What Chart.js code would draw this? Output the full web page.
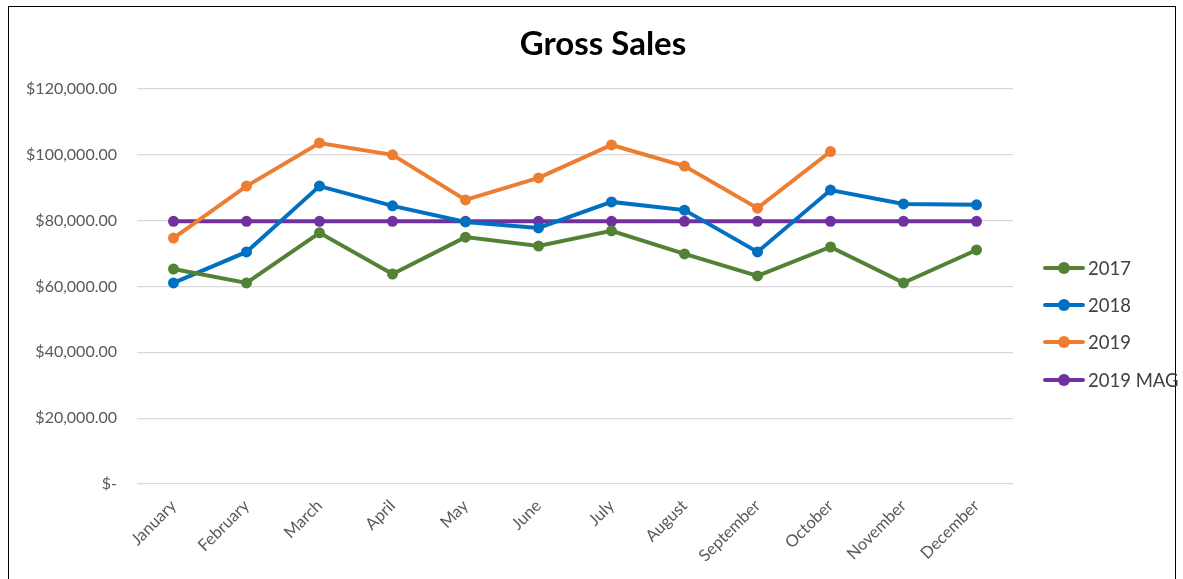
<!DOCTYPE html>
<html><head><meta charset="utf-8">
<script src="https://cdn.jsdelivr.net/npm/chart.js@4"></script>
<style>
html,body{margin:0;padding:0;background:#fff;}
#wrap{position:relative;width:1183px;height:579px;}
#frame{position:absolute;left:8px;top:6px;width:1168px;height:580px;border:1.5px solid #000;box-sizing:border-box;pointer-events:none;}
#legend{position:absolute;left:1043px;top:249px;font-family:Lato,'Open Sans',sans-serif;font-size:18.5px;color:#404040;}
.li{display:flex;align-items:center;height:37.3px;}
.sw{position:relative;width:42px;height:12px;margin-right:3px;}
.sw .ln{position:absolute;left:0;right:0;top:4px;height:4px;border-radius:2px;}
.sw .dt{position:absolute;left:15px;top:0;width:12px;height:12px;border-radius:50%;}
</style></head>
<body><div id="wrap"><canvas id="c" width="1183" height="579"></canvas><div id="frame"></div><div id="legend"></div></div>
<script>
const months = ['January','February','March','April','May','June','July','August','September','October','November','December'];
const sales2017 = [65300, 61100, 76300, 63800, 75000, 72300, 76900, 69900, 63200, 72000, 61100, 71100];
const sales2018 = [61100, 70500, 90500, 84500, 79600, 77800, 85700, 83200, 70500, 89300, 85100, 84800];
const sales2019 = [74700, 90500, 103600, 100000, 86300, 93000, 103000, 96600, 83800, 101000, null, null];
const mag2019 = [79800, 79800, 79800, 79800, 79800, 79800, 79800, 79800, 79800, 79800, 79800, 79800];
const seriesNames = ['2017','2018','2019','2019 MAG'];
const seriesColors = ['#548235','#0070C0','#ED7D31','#7030A0'];
const seriesData = [sales2017, sales2018, sales2019, mag2019];
const chartTitle = 'Gross Sales';

const fmt = v => v === 0 ? '$-' : '$' + v.toLocaleString('en-US',{minimumFractionDigits:2, maximumFractionDigits:2});

const datasets = seriesNames.map((n,i)=>({
  label:n, data:seriesData[i], borderColor:seriesColors[i], backgroundColor:seriesColors[i],
  borderWidth:4, pointRadius:5.5, pointHoverRadius:5.5, pointBorderWidth:0, tension:0, spanGaps:false
}));

const titlePlugin = {
  id:'centerTitle',
  afterDraw(chart){
    const ctx = chart.ctx;
    ctx.save();
    ctx.font = 'bold 33px Lato, "Open Sans", sans-serif';
    ctx.fillStyle = '#000';
    ctx.textAlign = 'center';
    ctx.textBaseline = 'middle';
    ctx.fillText(chartTitle, 603, 44);
    ctx.restore();
  }
};

new Chart(document.getElementById('c'), {
  type:'line',
  data:{labels:months, datasets:datasets},
  plugins:[titlePlugin],
  options:{
    responsive:false, animation:false,
    layout:{padding:{left:10,right:170,top:89,bottom:0}},
    plugins:{
      legend:{display:false},
      tooltip:{enabled:false},
      title:{display:false}
    },
    scales:{
      x:{offset:true,grid:{display:false},border:{display:false},
        ticks:{maxRotation:45,minRotation:45,color:'#595959',padding:4,
          font:{family:'Lato, "Open Sans", sans-serif',size:16.5}},
        afterFit:s=>{s.height=95;}},
      y:{min:0,max:120000,border:{display:false},
        grid:{color:'#d9d9d9',lineWidth:1.3,drawTicks:false},
        ticks:{stepSize:20000,color:'#595959',padding:20,callback:v=>fmt(v),
          font:{family:'Lato, "Open Sans", sans-serif',size:16}},
        afterFit:s=>{s.width=127;}}
    }
  }
});

const lg = document.getElementById('legend');
seriesNames.forEach((n,i)=>{
  const d=document.createElement('div'); d.className='li';
  d.innerHTML='<span class="sw"><span class="ln" style="background:'+seriesColors[i]+'"></span><span class="dt" style="background:'+seriesColors[i]+'"></span></span><span>'+n+'</span>';
  lg.appendChild(d);
});
</script></body></html>
